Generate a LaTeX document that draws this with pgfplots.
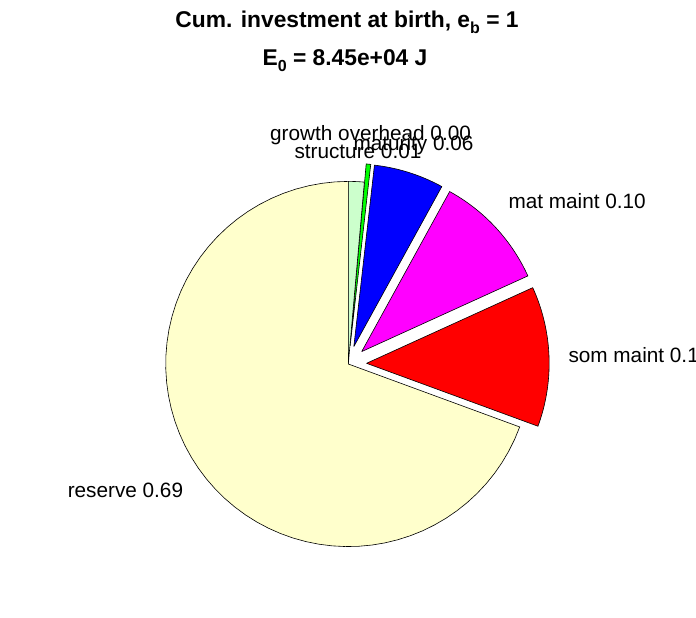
\documentclass[border=0pt]{standalone}
\usepackage{fontspec}
\setmainfont{Liberation Sans}
\usepackage{pgfplots}
\usepackage{pgfplotstable}
\pgfplotsset{compat=1.18}
\definecolor{resC}{rgb}{1,1,0.8}
\definecolor{strC}{rgb}{0.8,1,0.8}
\definecolor{groC}{rgb}{0,1,0}
\definecolor{matC}{rgb}{0,0,1}
\definecolor{mmC}{rgb}{1,0,1}
\definecolor{smC}{rgb}{1,0,0}
% fractions of the pie, counter-clockwise from the top
\pgfplotstableread{
name frac expl col
reserve 0.694 0 resC
sommaint 0.124 1 smC
matmaint 0.102 1 mmC
maturity 0.062 1 matC
growth 0.004 1 groC
structure 0.014 0 strC
}\piedata
\newcommand{\lab}{\fontsize{20.75pt}{24pt}\selectfont}
\newcommand{\ttl}{\fontsize{22.8pt}{27pt}\selectfont\bfseries}
\begin{document}
\begin{tikzpicture}
\useasboundingbox (0,0) rectangle (696pt,618pt);
\clip (0,0) rectangle (696pt,618pt);
\begin{axis}[at={(0,0)}, anchor=south west, scale only axis,
  width=696pt, height=618pt, xmin=0, xmax=696, ymin=0, ymax=618,
  hide axis, clip=false]
\pgfmathsetmacro\R{182.6}
\pgfmathsetmacro\cx{348.3}
\pgfmathsetmacro\cy{254}
\gdef\curang{90}
\pgfplotsforeachungrouped \i in {0,...,5}{%
  \pgfplotstablegetelem{\i}{frac}\of\piedata \let\fr=\pgfplotsretval
  \pgfplotstablegetelem{\i}{expl}\of\piedata \let\ex=\pgfplotsretval
  \pgfplotstablegetelem{\i}{col}\of\piedata \let\slicecol=\pgfplotsretval
  \pgfmathsetmacro\angA{\curang}%
  \pgfmathsetmacro\angB{\curang+360*\fr}%
  \pgfmathsetmacro\angM{(\angA+\angB)/2}%
  \pgfmathsetmacro\ox{\cx+\ex*0.1*\R*cos(\angM)}%
  \pgfmathsetmacro\oy{\cy+\ex*0.1*\R*sin(\angM)}%
  \edef\temp{\noexpand\addplot[fill=\slicecol, draw=black, line width=0.6pt,
      domain=0:62, samples=63, variable=\noexpand\t]
     ({\ox + (((\noexpand\t<0.5)||(\noexpand\t>61.5))?0:\R)*cos(\angA+(\angB-\angA)*(\noexpand\t-1)/60)},
      {\oy + (((\noexpand\t<0.5)||(\noexpand\t>61.5))?0:\R)*sin(\angA+(\angB-\angA)*(\noexpand\t-1)/60)});}%
  \temp
  \xdef\curang{\angB}%
}
\node[anchor=base west, inner sep=0, font=\lab] at (axis cs:270,477) {growth overhead 0.00};
\node[anchor=base west, inner sep=0, font=\lab] at (axis cs:353.3,467) {maturity 0.06};
\node[anchor=base west, inner sep=0, font=\lab] at (axis cs:294.3,459.5) {structure 0.01};
\node[anchor=base west, inner sep=0, font=\lab] at (axis cs:508.3,409.7) {mat maint 0.10};
\node[anchor=base west, inner sep=0, font=\lab] at (axis cs:568.3,255.3) {som maint 0.12};
\node[anchor=base east, inner sep=0, font=\lab] at (axis cs:183.3,120.7) {reserve 0.69};
\node[anchor=base, inner sep=0, font=\ttl] at (axis cs:347,590.5) {Cum. investment at birth, e\raisebox{-6pt}{\fontsize{16pt}{16pt}\selectfont b} = 1};
\node[anchor=base, inner sep=0, font=\ttl] at (axis cs:345,552) {E\raisebox{-6pt}{\fontsize{16pt}{16pt}\selectfont 0} = 8.45e+04 J};
\end{axis}
\end{tikzpicture}
\end{document}
